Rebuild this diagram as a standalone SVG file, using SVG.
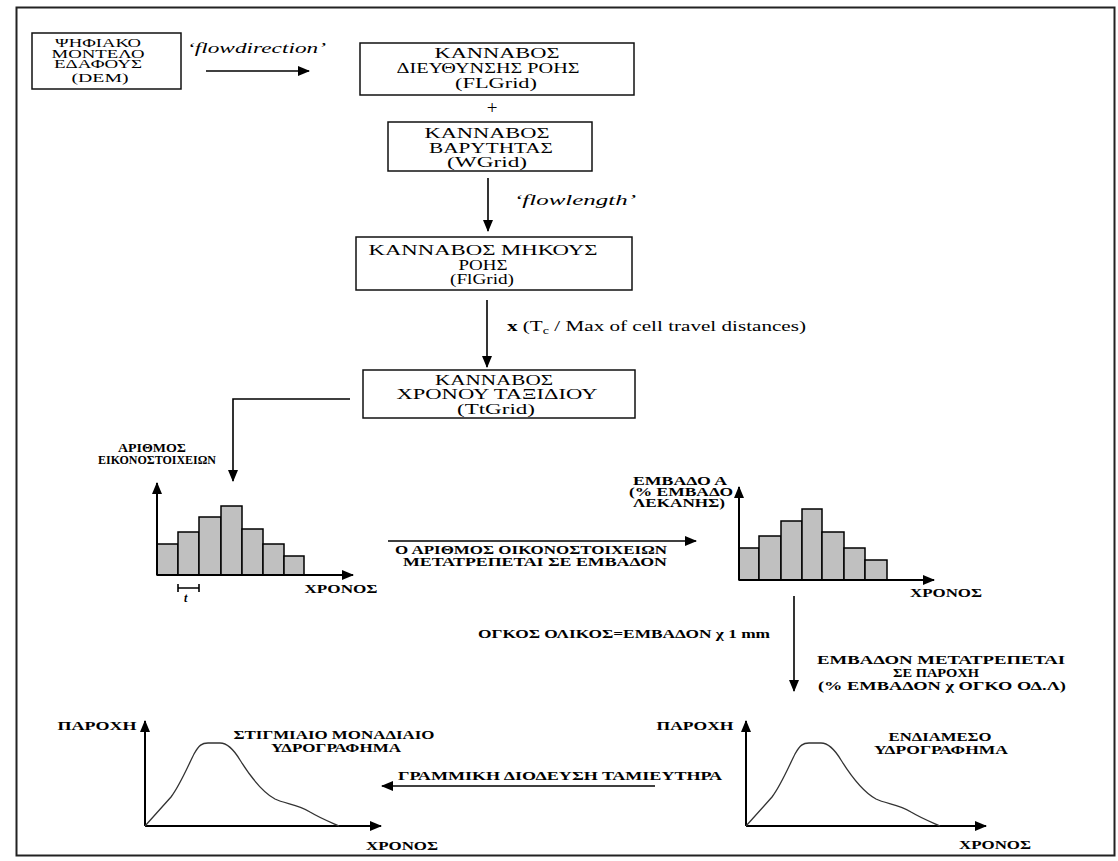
<svg xmlns="http://www.w3.org/2000/svg" width="1118" height="861" viewBox="0 0 1118 861">
<style>
text{font-family:'Liberation Serif','Times New Roman',Times,serif;fill:#000}
.box{fill:#fff;stroke:#111;stroke-width:1.5}
.bt{font-size:15px;text-anchor:middle}
.st{font-size:11.5px;text-anchor:middle}
.cap{font-size:11.5px;font-weight:bold;text-anchor:middle}
.it{font-size:15px;font-style:italic}
.ln{stroke:#000;stroke-width:1.6;fill:none}
.ax{stroke:#000;stroke-width:2;fill:none}
.bar{fill:#c0c0c0;stroke:#000;stroke-width:1.5}
.crv{fill:none;stroke:#333;stroke-width:1.3}
</style>
<defs>
<marker id="ah" markerUnits="userSpaceOnUse" markerWidth="12" markerHeight="10" refX="11" refY="5" orient="auto">
<path d="M0,0 L12,5 L0,10 Z" fill="#000"/>
</marker>
</defs>
<rect width="1118" height="861" fill="#fff"/>
<rect x="16.5" y="7.5" width="1098" height="848" fill="none" stroke="#222" stroke-width="2"/>

<g id="dem">
<rect class="box" x="32" y="33" width="149" height="56"/>
<text class="st" x="98" y="47" textLength="86" lengthAdjust="spacingAndGlyphs">ΨΗΦΙΑΚΟ</text>
<text class="st" x="98" y="57.5" textLength="93" lengthAdjust="spacingAndGlyphs">ΜΟΝΤΕΛΟ</text>
<text class="st" x="98" y="68" textLength="88" lengthAdjust="spacingAndGlyphs">ΕΔΑΦΟΥΣ</text>
<text class="st" x="100" y="82" textLength="57" lengthAdjust="spacingAndGlyphs">(DEM)</text>
</g>

<g id="flgrid">
<rect class="box" x="360" y="43" width="274" height="52"/>
<text class="bt" x="497" y="58" textLength="125" lengthAdjust="spacingAndGlyphs">ΚΑΝΝΑΒΟΣ</text>
<text class="bt" x="488" y="73" textLength="183" lengthAdjust="spacingAndGlyphs">ΔΙΕΥΘΥΝΣΗΣ ΡΟΗΣ</text>
<text class="bt" x="496" y="88" textLength="82" lengthAdjust="spacingAndGlyphs">(FLGrid)</text>
</g>

<text id="plus" x="492" y="114" font-size="19" text-anchor="middle">+</text>

<g id="wgrid">
<rect class="box" x="388" y="122" width="204" height="49"/>
<text class="bt" x="487" y="138" font-size="14" textLength="125" lengthAdjust="spacingAndGlyphs">ΚΑΝΝΑΒΟΣ</text>
<text class="bt" x="491" y="153" font-size="14" textLength="124" lengthAdjust="spacingAndGlyphs">ΒΑΡΥΤΗΤΑΣ</text>
<text class="bt" x="487" y="167" font-size="14" textLength="80" lengthAdjust="spacingAndGlyphs">(WGrid)</text>
</g>

<g id="flgrid2">
<rect class="box" x="356" y="237" width="276" height="53"/>
<text class="bt" x="483" y="255" font-size="13.5" textLength="229" lengthAdjust="spacingAndGlyphs">ΚΑΝΝΑΒΟΣ ΜΗΚΟΥΣ</text>
<text class="bt" x="483" y="270" font-size="13.5" textLength="49" lengthAdjust="spacingAndGlyphs">ΡΟΗΣ</text>
<text class="bt" x="482" y="284" font-size="13.5" textLength="64" lengthAdjust="spacingAndGlyphs">(FlGrid)</text>
</g>

<g id="ttgrid">
<rect class="box" x="363" y="370" width="272" height="48"/>
<text class="bt" x="494" y="385" font-size="14" textLength="118" lengthAdjust="spacingAndGlyphs">ΚΑΝΝΑΒΟΣ</text>
<text class="bt" x="497" y="399" font-size="14" textLength="201" lengthAdjust="spacingAndGlyphs">ΧΡΟΝΟΥ ΤΑΞΙΔΙΟΥ</text>
<text class="bt" x="496" y="414" font-size="14" textLength="78" lengthAdjust="spacingAndGlyphs">(TtGrid)</text>
</g>

<g id="connectors">
<line class="ln" x1="206" y1="71" x2="309" y2="71" marker-end="url(#ah)"/>
<line class="ln" x1="488" y1="178" x2="488" y2="231" marker-end="url(#ah)"/>
<line class="ln" x1="487" y1="300" x2="487" y2="367" marker-end="url(#ah)"/>
<polyline class="ln" points="350,399 233,399 233,481" marker-end="url(#ah)"/>
<line class="ln" x1="388" y1="541" x2="696" y2="541" marker-end="url(#ah)"/>
<line class="ln" x1="794" y1="596" x2="794" y2="691" marker-end="url(#ah)"/>
<line class="ln" x1="655" y1="786" x2="382" y2="786" marker-end="url(#ah)"/>
</g>

<g id="labels">
<text class="it" x="187" y="53" textLength="139" lengthAdjust="spacingAndGlyphs">‘flowdirection’</text>
<text class="it" x="514" y="205" textLength="122" lengthAdjust="spacingAndGlyphs">‘flowlength’</text>
<text x="507" y="331" font-size="15" textLength="299" lengthAdjust="spacingAndGlyphs"><tspan font-weight="bold">x</tspan> (T<tspan font-size="10" dy="3">c</tspan><tspan dy="-3"> / Max of cell travel distances)</tspan></text>
<text class="cap" x="531" y="554" textLength="272" lengthAdjust="spacingAndGlyphs">Ο ΑΡΙΘΜΟΣ ΟΙΚΟΝΟΣΤΟΙΧΕΙΩΝ</text>
<text class="cap" x="535" y="566" textLength="264" lengthAdjust="spacingAndGlyphs">ΜΕΤΑΤΡΕΠΕΤΑΙ ΣΕ ΕΜΒΑΔΟΝ</text>
<text class="cap" x="624" y="638" textLength="292" lengthAdjust="spacingAndGlyphs">ΟΓΚΟΣ ΟΛΙΚΟΣ=ΕΜΒΑΔΟΝ χ 1 mm</text>
<text class="cap" x="941" y="664" textLength="248" lengthAdjust="spacingAndGlyphs">ΕΜΒΑΔΟΝ ΜΕΤΑΤΡΕΠΕΤΑΙ</text>
<text class="cap" x="936" y="677" textLength="86" lengthAdjust="spacingAndGlyphs">ΣΕ ΠΑΡΟΧΗ</text>
<text class="cap" x="942" y="690" textLength="248" lengthAdjust="spacingAndGlyphs">(% ΕΜΒΑΔΟΝ χ ΟΓΚΟ ΟΔ.Λ)</text>
<text class="cap" x="560" y="780" textLength="324" lengthAdjust="spacingAndGlyphs">ΓΡΑΜΜΙΚΗ ΔΙΟΔΕΥΣΗ ΤΑΜΙΕΥΤΗΡΑ</text>
</g>

<g id="hist1">
<rect class="bar" x="157" y="544" width="21" height="31"/>
<rect class="bar" x="178" y="532" width="21" height="43"/>
<rect class="bar" x="199" y="517" width="22" height="58"/>
<rect class="bar" x="221" y="506" width="21" height="69"/>
<rect class="bar" x="242" y="529" width="21" height="46"/>
<rect class="bar" x="263" y="544" width="21" height="31"/>
<rect class="bar" x="284" y="556" width="20" height="19"/>
<line class="ax" x1="157" y1="575" x2="157" y2="483" marker-end="url(#ah)"/>
<line class="ax" x1="157" y1="575" x2="353" y2="575" marker-end="url(#ah)"/>
<path class="ln" d="M178,584 V592 M178,588 H199 M199,584 V592" stroke-width="1.3"/>
<text x="184" y="602" font-size="12" font-style="italic" font-weight="bold">t</text>
<text class="cap" x="341" y="593" textLength="73" lengthAdjust="spacingAndGlyphs">ΧΡΟΝΟΣ</text>
<text class="cap" x="152" y="452" textLength="68" lengthAdjust="spacingAndGlyphs">ΑΡΙΘΜΟΣ</text>
<text class="cap" x="157" y="464" textLength="118" lengthAdjust="spacingAndGlyphs">ΕΙΚΟΝΟΣΤΟΙΧΕΙΩΝ</text>
</g>

<g id="hist2">
<rect class="bar" x="739" y="548" width="20" height="32"/>
<rect class="bar" x="759" y="536" width="22" height="44"/>
<rect class="bar" x="781" y="521" width="21" height="59"/>
<rect class="bar" x="802" y="509" width="20" height="71"/>
<rect class="bar" x="822" y="532" width="22" height="48"/>
<rect class="bar" x="844" y="548" width="21" height="32"/>
<rect class="bar" x="865" y="560" width="22" height="20"/>
<line class="ax" x1="739" y1="580" x2="739" y2="487" marker-end="url(#ah)"/>
<line class="ax" x1="739" y1="580" x2="934" y2="580" marker-end="url(#ah)"/>
<text class="cap" x="946" y="597" textLength="72" lengthAdjust="spacingAndGlyphs">ΧΡΟΝΟΣ</text>
<text class="cap" x="680" y="485" textLength="94" lengthAdjust="spacingAndGlyphs">ΕΜΒΑΔΟ Α</text>
<text class="cap" x="681" y="496" textLength="104" lengthAdjust="spacingAndGlyphs">(% ΕΜΒΑΔΟ</text>
<text class="cap" x="679" y="507" textLength="92" lengthAdjust="spacingAndGlyphs">ΛΕΚΑΝΗΣ)</text>
</g>

<g id="graph1">
<line class="ax" x1="145" y1="826" x2="145" y2="721" marker-end="url(#ah)"/>
<line class="ax" x1="145" y1="826" x2="381" y2="826" marker-end="url(#ah)"/>
<path class="crv" d="M145,826 L171,797 C180,785 187,768 194,754 C199,745 202,743 208,743 L220,743 C228,743 234,750 240,760 C250,776 262,792 275,799 C285,804 298,804 310,812 C320,818 330,822 339,826"/>
<text class="cap" x="97" y="730" textLength="79" lengthAdjust="spacingAndGlyphs">ΠΑΡΟΧΗ</text>
<text class="cap" x="334" y="739" textLength="201" lengthAdjust="spacingAndGlyphs">ΣΤΙΓΜΙΑΙΟ ΜΟΝΑΔΙΑΙΟ</text>
<text class="cap" x="336" y="752" textLength="130" lengthAdjust="spacingAndGlyphs">ΥΔΡΟΓΡΑΦΗΜΑ</text>
<text class="cap" x="402" y="850" textLength="72" lengthAdjust="spacingAndGlyphs">ΧΡΟΝΟΣ</text>
</g>

<g id="graph2">
<line class="ax" x1="746" y1="826" x2="746" y2="721" marker-end="url(#ah)"/>
<line class="ax" x1="746" y1="826" x2="986" y2="826" marker-end="url(#ah)"/>
<path class="crv" transform="translate(601,0)" d="M145,826 L171,797 C180,785 187,768 194,754 C199,745 202,743 208,743 L220,743 C228,743 234,750 240,760 C250,776 262,792 275,799 C285,804 298,804 310,812 C320,818 330,822 339,826"/>
<text class="cap" x="695" y="730" textLength="77" lengthAdjust="spacingAndGlyphs">ΠΑΡΟΧΗ</text>
<text class="cap" x="940" y="741" textLength="103" lengthAdjust="spacingAndGlyphs">ΕΝΔΙΑΜΕΣΟ</text>
<text class="cap" x="941" y="754" textLength="134" lengthAdjust="spacingAndGlyphs">ΥΔΡΟΓΡΑΦΗΜΑ</text>
<text class="cap" x="995" y="849" textLength="72" lengthAdjust="spacingAndGlyphs">ΧΡΟΝΟΣ</text>
</g>
</svg>
